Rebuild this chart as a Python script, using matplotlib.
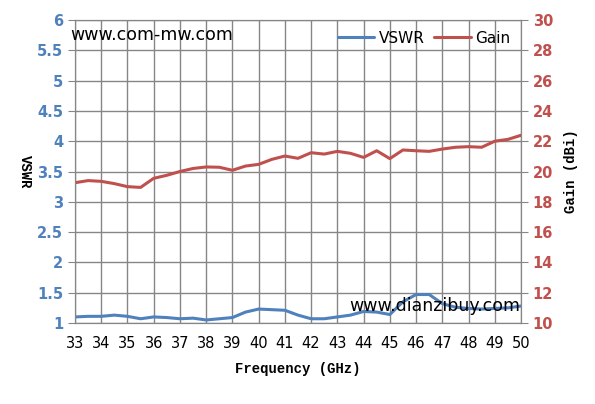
import numpy as np
import matplotlib
matplotlib.use("Agg")
import matplotlib.pyplot as plt

# values
freq = [33, 33.5, 34, 34.5, 35, 35.5, 36, 36.5, 37, 37.5, 38, 38.5, 39, 39.5,
        40, 40.5, 41, 41.5, 42, 42.5, 43, 43.5, 44, 44.5, 45, 45.5, 46, 46.5,
        47, 47.5, 48, 48.5, 49, 49.5, 50]
vswr = [1.10, 1.11, 1.11, 1.13, 1.11, 1.07, 1.10, 1.09, 1.07, 1.08, 1.05, 1.07,
        1.09, 1.18, 1.23, 1.22, 1.21, 1.13, 1.07, 1.07, 1.10, 1.13, 1.19, 1.18,
        1.14, 1.35, 1.47, 1.47, 1.32, 1.26, 1.24, 1.23, 1.24, 1.25, 1.28]
gain = [19.26, 19.4, 19.35, 19.2, 19.0, 18.95, 19.55, 19.75, 20.0, 20.2, 20.3,
        20.28, 20.08, 20.36, 20.47, 20.8, 21.02, 20.87, 21.24, 21.15, 21.33,
        21.2, 20.93, 21.37, 20.85, 21.42, 21.37, 21.33, 21.48, 21.6, 21.64,
        21.6, 22.0, 22.12, 22.39]
xticks = list(range(33, 51))
vswr_ticks = [1, 1.5, 2, 2.5, 3, 3.5, 4, 4.5, 5, 5.5, 6]
gain_ticks = list(range(10, 31, 2))

blue = "#4F81BD"
red = "#C0504D"
grid = "#868686"

fig = plt.figure(figsize=(5.95, 4.04), dpi=100)
ax = fig.add_axes([75 / 595, 1 - 323 / 404, 446 / 595, 303 / 404])
ax2 = ax.twinx()

l1, = ax.plot(freq, vswr, color=blue, lw=2.2, label="VSWR", solid_capstyle="round")
l2, = ax2.plot(freq, gain, color=red, lw=2.2, label="Gain", solid_capstyle="round")

ax.set_xlim(33, 50)
ax.set_ylim(1, 6)
ax2.set_ylim(10, 30)
ax.set_xticks(xticks)
ax.set_yticks(vswr_ticks)
ax2.set_yticks(gain_ticks)
ax.set_yticklabels([f"{v:g}" for v in vswr_ticks])

ax.grid(True, color=grid, lw=1)
ax.set_axisbelow(True)
for a in (ax, ax2):
    for s in a.spines.values():
        s.set_color(grid)

ax.tick_params(axis="x", length=0, pad=9, labelsize=10.5, labelcolor="black")
ax.tick_params(axis="y", length=5, color=grid, labelsize=10.5, labelcolor=blue)
ax2.tick_params(axis="y", length=5, color=grid, labelsize=10.5, labelcolor=red)
for t in ax.get_yticklabels():
    t.set_fontweight("bold")
for t in ax2.get_yticklabels():
    t.set_fontweight("bold")

lab = dict(family="Liberation Mono", fontweight="bold", fontsize=10)
ax.set_xlabel("Frequency (GHz)", labelpad=8, **lab)
ax.set_ylabel("VSWR", rotation=-90, labelpad=14, **lab)
ax2.set_ylabel("Gain (dBi)", rotation=90, labelpad=8, **lab)

ax.legend(handles=[l1, l2], loc="upper right", ncol=2, frameon=False,
          fontsize=11, handlelength=2.4, columnspacing=0.6, handletextpad=0.3,
          borderaxespad=0.3)

fig.text(70 / 595, 1 - 35 / 404, "www.com-mw.com", fontsize=12.5, va="center")
fig.text(520 / 595, 1 - 306 / 404, "www.dianzibuy.com", fontsize=12.5,
         va="center", ha="right")

fig.savefig("out.png", dpi=100)
